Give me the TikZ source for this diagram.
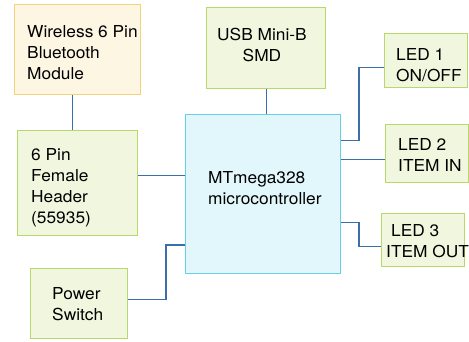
\documentclass[tikz,border=0pt]{standalone}
\usepackage{fontspec}
\setmainfont[FakeStretch=1.05]{TeX Gyre Heros}
\definecolor{partedge}{HTML}{B8D86B}
\definecolor{partfill}{HTML}{F1F7DE}
\definecolor{radioedge}{HTML}{F3D27C}
\definecolor{radiofill}{HTML}{FDF6E3}
\definecolor{mcuedge}{HTML}{67CFE8}
\definecolor{mcufill}{HTML}{E2F7FC}
\definecolor{wirecol}{HTML}{3A6FA8}
\tikzset{
  partbox/.style={draw=partedge, fill=partfill, line width=1.4pt, anchor=north west, inner sep=0pt},
  radiobox/.style={partbox, draw=radioedge, fill=radiofill},
  mcubox/.style={partbox, draw=mcuedge, fill=mcufill},
  label text/.style={anchor=north west, inner sep=0pt, align=left, font=\fontsize{16.5}{21}\selectfont},
  wire/.style={draw=wirecol, line width=1.4pt}
}
\begin{document}
\begin{tikzpicture}[x=1pt,y=1pt]
  \useasboundingbox (0,0) rectangle (469,341);
  % blocks
  \node [radiobox, minimum width=126pt, minimum height=90pt] (bt) at (14,337) {};
  \node [partbox, minimum width=120pt, minimum height=105pt] (hdr) at (17,211) {};
  \node [partbox, minimum width=97pt, minimum height=70pt] (pwr) at (30,73) {};
  \node [partbox, minimum width=119pt, minimum height=81pt] (usb) at (206,334) {};
  \node [mcubox, minimum width=155pt, minimum height=159pt] (mcu) at (185,227) {};
  \node [partbox, minimum width=83pt, minimum height=54pt] (led1) at (384,308) {};
  \node [partbox, minimum width=83pt, minimum height=58pt] (led2) at (385,217) {};
  \node [partbox, minimum width=83pt, minimum height=53pt] (led3) at (381,128) {};
  % labels
  \node [label text] (bt-text) at (27,316) {Wireless 6 Pin\\Bluetooth\\Module};
  \node [label text] (hdr-text) at (31,193) {6 Pin\\Female\\Header\\(55935)};
  \node [label text] (pwr-text) at (52,54) {Power\\Switch};
  \node [label text, align=center] (usb-text) at (217,313) {USB Mini-B\\SMD};
  \node [label text] (mcu-text) at (208,170) {MTmega328\\microcontroller};
  \node [label text] (led1-text) at (396,293) {LED 1\\ON/OFF};
  \node [label text] (led2-text) at (398,203) {LED 2\\ITEM IN};
  \node [label text] (led3-text) at (386,117) {\hspace{5pt}LED 3\\ITEM OUT};
  % wiring
  \draw [wire] ([xshift=-5pt]bt.south) -- ([xshift=-5pt]hdr.north);
  \draw [wire] (usb.south) -- (usb.south |- mcu.north);
  \draw [wire] ([yshift=7.5pt]hdr.east) -- ([yshift=7.5pt]hdr.east -| mcu.west);
  \coordinate (pwrbend) at (166,96);
  \draw [wire] ([yshift=4pt]pwr.east) -| (pwrbend) -- (pwrbend -| mcu.west);
  \draw [wire] ([yshift=53.5pt]mcu.east) -| ([xshift=-25pt,yshift=-7pt]led1.west) -- ([yshift=-7pt]led1.west);
  \draw [wire] ([yshift=-6pt]led2.west) -- ([yshift=-6pt]led2.west -| mcu.east);
  \draw [wire] ([yshift=-28.5pt]mcu.east) -| ([xshift=-22pt,yshift=-6.5pt]led3.west) -- ([yshift=-6.5pt]led3.west);
\end{tikzpicture}
\end{document}
